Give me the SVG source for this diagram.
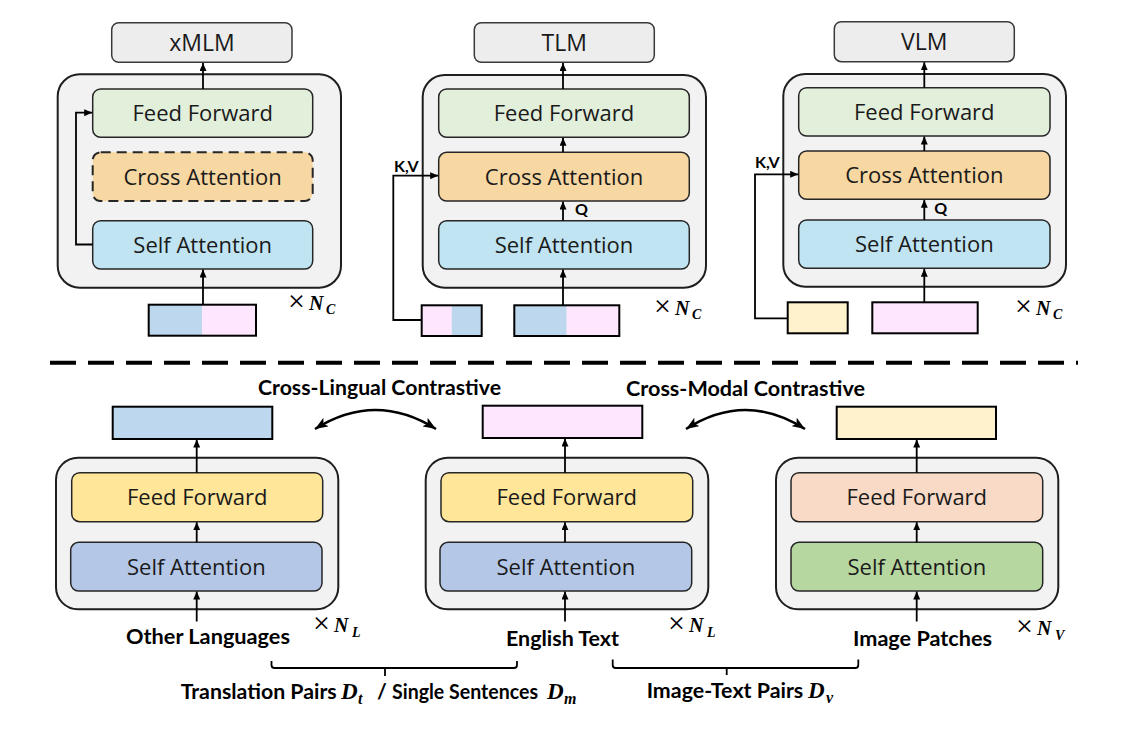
<svg xmlns="http://www.w3.org/2000/svg" width="1132" height="729" viewBox="0 0 1132 729">
<style>
.title{fill:#ededed;stroke:#3a3a3a;stroke-width:1.5}
.outer{fill:#f2f2f2;stroke:#1e1e1e;stroke-width:2}
.inner{stroke:#262626;stroke-width:1.5}
.vec{stroke:#000;stroke-width:2}
.lbl{font-family:"Open Sans","Noto Sans","DejaVu Sans",sans-serif;font-size:22px;fill:#1a1a1a;text-anchor:middle}
.ttl{font-size:23px}
.bold{font-family:Lato,"Open Sans",sans-serif;font-weight:bold;fill:#000}
.math{font-family:"Liberation Serif","DejaVu Serif",serif;font-weight:bold;font-style:italic;fill:#000}
.times{font-family:"Liberation Serif","DejaVu Serif",serif;fill:#000;font-size:30px}
.ln{fill:none;stroke:#000;stroke-width:1.8}
.curve{fill:none;stroke:#000;stroke-width:2.6}
.ff1{fill:#e2efda}.ca{fill:#f7d7a2}.sa1{fill:#c0e4f1}
.blue{fill:#bdd7ee}.pink{fill:#ffe6ff}.yel{fill:#fff2cc}
.ff2{fill:#ffe699}.sa2{fill:#b4c7e7}.ff3{fill:#f8dac6}.sa3{fill:#b7d7a0}
</style>
<defs>
<marker id="ah" markerUnits="userSpaceOnUse" markerWidth="8" markerHeight="7" viewBox="0 0 8 7" refX="8" refY="3.5" orient="auto">
<path d="M0,0 L8,3.5 L0,7 z" fill="#000"/>
</marker>
<marker id="ch" markerUnits="userSpaceOnUse" markerWidth="13" markerHeight="10" viewBox="0 0 13 10" refX="13" refY="5" orient="auto-start-reverse">
<path d="M0,0 L13,5 L0,10 L3,5 z" fill="#000"/>
</marker>
</defs>

<!-- ===== Top-left: xMLM ===== -->
<g id="xmlm-title"><rect class="title" x="111.7" y="22.7" width="180.3" height="39.6" rx="7"/><text class="lbl ttl" x="202" y="51">xMLM</text></g>
<g id="xmlm-block"><rect class="outer" x="57.7" y="74.3" width="283.3" height="213.4" rx="22"/></g>
<g id="xmlm-ff"><rect class="inner ff1" x="92.7" y="89" width="220" height="48.3" rx="8"/><text class="lbl" x="202.7" y="121">Feed Forward</text></g>
<g id="xmlm-ca"><rect class="ca" x="92.7" y="152.3" width="220" height="48.7" rx="8" stroke="#262626" stroke-width="2" stroke-dasharray="10 6"/><text class="lbl" x="202.7" y="184.5">Cross Attention</text></g>
<g id="xmlm-sa"><rect class="inner sa1" x="92.7" y="220.7" width="220" height="48.3" rx="8"/><text class="lbl" x="202.7" y="252.8">Self Attention</text></g>
<g id="xmlm-input"><rect class="blue" x="148.7" y="304.7" width="53.5" height="31"/><rect class="pink" x="202.2" y="304.7" width="53.8" height="31"/><rect class="vec" fill="none" x="148.7" y="304.7" width="107.3" height="31"/></g>
<g id="xmlm-n"><text x="288" y="311"><tspan class="times">×</tspan><tspan class="math" x="309" y="310" font-size="20">N</tspan><tspan class="math" x="326" dy="4" font-size="14">C</tspan></text></g>

<!-- ===== Top-middle: TLM ===== -->
<g id="tlm-title"><rect class="title" x="474.3" y="22.7" width="180" height="39.6" rx="7"/><text class="lbl ttl" x="564.3" y="51">TLM</text></g>
<g id="tlm-block"><rect class="outer" x="422.7" y="75" width="283.3" height="212.7" rx="22"/></g>
<g id="tlm-ff"><rect class="inner ff1" x="438.7" y="89" width="250.6" height="48.3" rx="8"/><text class="lbl" x="564" y="121">Feed Forward</text></g>
<g id="tlm-ca"><rect class="inner ca" x="438.7" y="152.3" width="250.6" height="48.7" rx="8"/><text class="lbl" x="564" y="184.5">Cross Attention</text></g>
<g id="tlm-sa"><rect class="inner sa1" x="438.7" y="220.7" width="250.6" height="48.3" rx="8"/><text class="lbl" x="564" y="252.8">Self Attention</text></g>
<g id="tlm-kv-input"><rect class="pink" x="421.7" y="305.3" width="30" height="30.7"/><rect class="blue" x="451.7" y="305.3" width="30" height="30.7"/><rect class="vec" fill="none" x="421.7" y="305.3" width="60" height="30.7"/></g>
<g id="tlm-input"><rect class="blue" x="514.3" y="305.3" width="52.4" height="30.7"/><rect class="pink" x="566.7" y="305.3" width="52.6" height="30.7"/><rect class="vec" fill="none" x="514.3" y="305.3" width="105" height="30.7"/></g>
<g id="tlm-n"><text x="654" y="316"><tspan class="times">×</tspan><tspan class="math" x="675" y="315" font-size="20">N</tspan><tspan class="math" x="692" dy="4" font-size="14">C</tspan></text></g>

<!-- ===== Top-right: VLM ===== -->
<g id="vlm-title"><rect class="title" x="834.3" y="21.7" width="180" height="40" rx="7"/><text class="lbl ttl" x="924.3" y="50">VLM</text></g>
<g id="vlm-block"><rect class="outer" x="783.3" y="74" width="282.7" height="212.7" rx="22"/></g>
<g id="vlm-ff"><rect class="inner ff1" x="798.7" y="87.7" width="251.3" height="48.3" rx="8"/><text class="lbl" x="924.3" y="120">Feed Forward</text></g>
<g id="vlm-ca"><rect class="inner ca" x="798.7" y="151" width="251.3" height="48.3" rx="8"/><text class="lbl" x="924.3" y="183">Cross Attention</text></g>
<g id="vlm-sa"><rect class="inner sa1" x="798.7" y="220" width="251.3" height="48.3" rx="8"/><text class="lbl" x="924.3" y="252">Self Attention</text></g>
<g id="vlm-kv-input"><rect class="yel vec" x="787.7" y="302.3" width="60" height="31"/></g>
<g id="vlm-input"><rect class="pink vec" x="872.3" y="302.3" width="105.4" height="31"/></g>
<g id="vlm-n"><text x="1015" y="316"><tspan class="times">×</tspan><tspan class="math" x="1036" y="315" font-size="20">N</tspan><tspan class="math" x="1053" dy="4" font-size="14">C</tspan></text></g>

<!-- separator -->
<line x1="50" y1="362.7" x2="1078" y2="362.7" stroke="#000" stroke-width="4" stroke-dasharray="26 12"/>

<!-- ===== Bottom-left: text encoder (other languages) ===== -->
<g id="lang-out"><rect class="blue vec" x="112.7" y="406.7" width="159.6" height="32.3"/></g>
<g id="lang-block"><rect class="outer" x="56" y="457.7" width="282.3" height="151.6" rx="22"/></g>
<g id="lang-ff"><rect class="inner ff2" x="71.7" y="472.7" width="251" height="49" rx="8"/><text class="lbl" x="197.2" y="505">Feed Forward</text></g>
<g id="lang-sa"><rect class="inner sa2" x="70.7" y="542.3" width="251.3" height="48.7" rx="8"/><text class="lbl" x="196.3" y="574.5">Self Attention</text></g>
<g id="lang-in"><text class="bold" x="126" y="644" font-size="21" textLength="164" lengthAdjust="spacingAndGlyphs">Other Languages</text></g>
<g id="lang-n"><text x="313" y="633"><tspan class="times">×</tspan><tspan class="math" x="334" y="632" font-size="20">N</tspan><tspan class="math" x="352" dy="4.5" font-size="14">L</tspan></text></g>

<!-- ===== Bottom-middle: text encoder (English) ===== -->
<g id="en-out"><rect class="pink vec" x="482.7" y="405.7" width="159.6" height="32.3"/></g>
<g id="en-block"><rect class="outer" x="425.7" y="457.7" width="282.6" height="151.6" rx="22"/></g>
<g id="en-ff"><rect class="inner ff2" x="441" y="472.7" width="251.7" height="49" rx="8"/><text class="lbl" x="566.8" y="505">Feed Forward</text></g>
<g id="en-sa"><rect class="inner sa2" x="440" y="542.3" width="251.7" height="48.7" rx="8"/><text class="lbl" x="565.8" y="574.5">Self Attention</text></g>
<g id="en-in"><text class="bold" x="506" y="646" font-size="21" textLength="113" lengthAdjust="spacingAndGlyphs">English Text</text></g>
<g id="en-n"><text x="668" y="633"><tspan class="times">×</tspan><tspan class="math" x="689" y="632" font-size="20">N</tspan><tspan class="math" x="707" dy="4.5" font-size="14">L</tspan></text></g>

<!-- ===== Bottom-right: vision encoder ===== -->
<g id="img-out"><rect class="yel vec" x="836.7" y="406.7" width="159.3" height="32.3"/></g>
<g id="img-block"><rect class="outer" x="776" y="457.7" width="282.3" height="151.6" rx="22"/></g>
<g id="img-ff"><rect class="inner ff3" x="791" y="472.7" width="251.7" height="49" rx="8"/><text class="lbl" x="916.8" y="505">Feed Forward</text></g>
<g id="img-sa"><rect class="inner sa3" x="791" y="542.3" width="251.7" height="48.7" rx="8"/><text class="lbl" x="916.8" y="574.5">Self Attention</text></g>
<g id="img-in"><text class="bold" x="853" y="646" font-size="21" textLength="139" lengthAdjust="spacingAndGlyphs">Image Patches</text></g>
<g id="img-n"><text x="1016" y="636"><tspan class="times">×</tspan><tspan class="math" x="1037" y="635" font-size="20">N</tspan><tspan class="math" x="1055" dy="4.5" font-size="14">V</tspan></text></g>

<!-- contrastive labels -->
<g id="cl-label"><text class="bold" x="258" y="395" font-size="20" textLength="243" lengthAdjust="spacingAndGlyphs">Cross-Lingual Contrastive</text></g>
<g id="cm-label"><text class="bold" x="626" y="396" font-size="20" textLength="239" lengthAdjust="spacingAndGlyphs">Cross-Modal Contrastive</text></g>

<!-- dataset labels -->
<g id="ds1-label"><text y="699" font-size="21"><tspan class="bold" x="180.7" textLength="156" lengthAdjust="spacingAndGlyphs">Translation Pairs</tspan><tspan class="math" x="341" font-size="23">D</tspan><tspan class="math" x="358" dy="5" font-size="16">t</tspan><tspan class="bold" x="377" dy="-5">/</tspan><tspan class="bold" x="392" textLength="146" lengthAdjust="spacingAndGlyphs">Single Sentences</tspan><tspan class="math" x="547" font-size="23">D</tspan><tspan class="math" x="564" dy="5" font-size="16">m</tspan></text></g>
<g id="ds2-label"><text y="698" font-size="21"><tspan class="bold" x="646.7" textLength="156.6" lengthAdjust="spacingAndGlyphs">Image-Text Pairs</tspan><tspan class="math" x="808" font-size="23">D</tspan><tspan class="math" x="826" dy="5" font-size="16">v</tspan></text></g>

<!-- ===== connectors ===== -->
<g id="connectors">
<path class="ln" d="M203,304.7 V269.5" marker-end="url(#ah)"/>
<path class="ln" d="M203,89 V63" marker-end="url(#ah)"/>
<path class="ln" d="M92.7,244.5 H76 V112.7 H92.2" marker-end="url(#ah)"/>

<path class="ln" d="M563,305.3 V269.5" marker-end="url(#ah)"/>
<path class="ln" d="M563,220.7 V201.5" marker-end="url(#ah)"/>
<path class="ln" d="M563,152.3 V137.8" marker-end="url(#ah)"/>
<path class="ln" d="M563,89 V63" marker-end="url(#ah)"/>
<path class="ln" d="M421.7,320 H393.3 V175.7 H438.2" marker-end="url(#ah)"/>

<path class="ln" d="M924.3,302.3 V268.8" marker-end="url(#ah)"/>
<path class="ln" d="M924.3,220 V199.8" marker-end="url(#ah)"/>
<path class="ln" d="M924.3,151 V136.5" marker-end="url(#ah)"/>
<path class="ln" d="M924.3,87.7 V62.2" marker-end="url(#ah)"/>
<path class="ln" d="M787.7,318.3 H755 V174.3 H798.2" marker-end="url(#ah)"/>

<path class="ln" d="M196.7,621.5 V591.5" marker-end="url(#ah)"/>
<path class="ln" d="M196.7,542.3 V522.2" marker-end="url(#ah)"/>
<path class="ln" d="M196.7,472.7 V439.5" marker-end="url(#ah)"/>
<path class="ln" d="M565,621.5 V591.5" marker-end="url(#ah)"/>
<path class="ln" d="M565,542.3 V522.2" marker-end="url(#ah)"/>
<path class="ln" d="M565,472.7 V438.5" marker-end="url(#ah)"/>
<path class="ln" d="M916.7,621.5 V591.5" marker-end="url(#ah)"/>
<path class="ln" d="M916.7,542.3 V522.2" marker-end="url(#ah)"/>
<path class="ln" d="M916.7,472.7 V439.5" marker-end="url(#ah)"/>

<path class="curve" d="M315,429 Q375.5,391 436,429" marker-start="url(#ch)" marker-end="url(#ch)"/>
<path class="curve" d="M686,429 Q745.5,391 805,429" marker-start="url(#ch)" marker-end="url(#ch)"/>

<path class="ln" stroke-width="2" d="M271.5,661 V665 Q271.5,668 274.5,668 H514 Q517,668 517,665 V661 M385,668 V676"/>
<path class="ln" stroke-width="2" d="M612.7,659.5 V665 Q612.7,668 615.7,668 H855.3 Q858.3,668 858.3,665 V659.5 M726.7,668 V675"/>

<text class="bold" x="394" y="171.7" font-size="16">K,V</text>
<text class="bold" x="575" y="215" font-size="16">Q</text>
<text class="bold" x="755" y="168.3" font-size="16">K,V</text>
<text class="bold" x="934.3" y="214" font-size="16">Q</text>
</g>
</svg>
